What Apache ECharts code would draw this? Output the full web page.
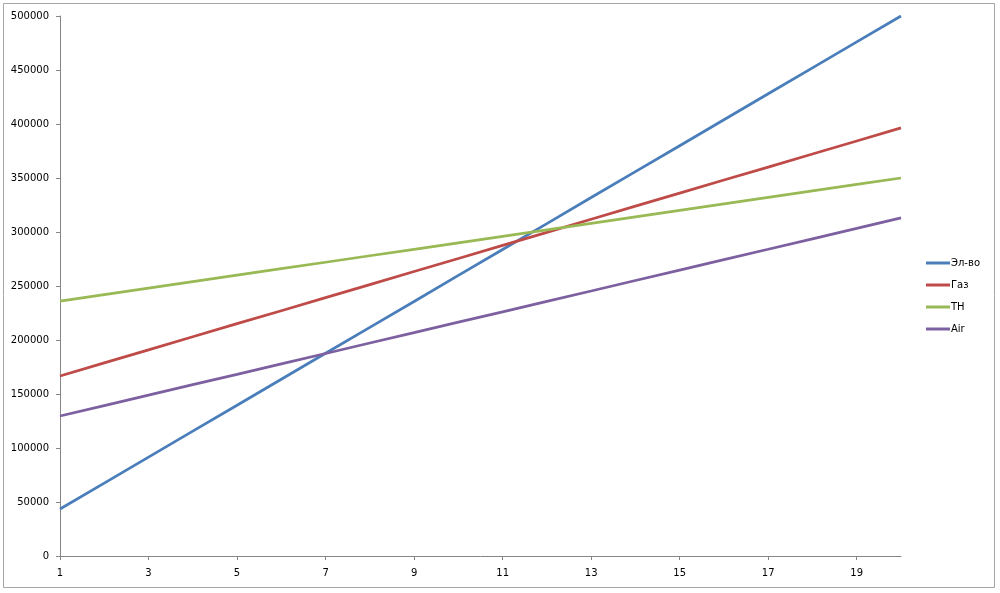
<!DOCTYPE html>
<html>
<head>
<meta charset="utf-8">
<script src="https://cdn.jsdelivr.net/npm/echarts@6/dist/echarts.min.js"></script>
<style>
html,body{margin:0;padding:0;background:#fff;}
#c{width:1000px;height:593px;}
</style>
</head>
<body>
<div id="c"></div>
<script>
const categories = ['1','2','3','4','5','6','7','8','9','10','11','12','13','14','15','16','17','18','19','20'];
const elvo = [43500,67500,91600,115600,139600,163700,187700,211700,235700,259800,283800,307800,331900,355900,379900,403900,428000,452000,476000,500000];
const gaz = [166700,178800,190900,203000,215100,227100,239200,251300,263400,275500,287600,299700,311800,323900,336000,348100,360100,372200,384300,396400];
const tn = [236000,242000,248000,254000,260000,266000,272000,278000,284000,290000,296000,302000,308000,314000,320000,326000,332000,338000,344000,350000];
const air = [129600,139300,148900,158600,168200,177900,187500,197200,206800,216500,226100,235800,245400,255100,264700,274400,284000,293700,303300,313000];
const seriesNames = ['Эл-во','Газ','ТН','Air'];
const colors = ['#4a7ebb','#be4b48','#98b954','#7d60a0'];

const chart = echarts.init(document.getElementById('c'), null, {renderer:'canvas'});
const font = 'DejaVu Sans';
const mk = (name, data, i) => ({
  name, type:'line', data, symbol:'none', smooth:false,
  lineStyle:{width:2.75, color:colors[i]}, itemStyle:{color:colors[i]}
});
chart.setOption({
  animation:false,
  backgroundColor:'#fff',
  textStyle:{fontFamily:font},
  grid:{left:60, right:99, top:16, bottom:37, containLabel:false},
  legend:{
    orient:'vertical', left:926, top:258, padding:0, itemWidth:24, itemHeight:10, itemGap:12,
    data: seriesNames.map((n,i)=>({name:n, itemStyle:{color:colors[i]}, icon:'path://M0,4 L24,4 L24,7 L0,7 Z'})),
    textStyle:{fontFamily:font, fontSize:10, color:'#000', padding:[0,0,0,-4]}
  },
  xAxis:{
    type:'category', data:categories, boundaryGap:false,
    axisLine:{lineStyle:{color:'#868686', width:1}},
    axisTick:{interval:1, length:4, lineStyle:{color:'#868686'}},
    axisLabel:{interval:1, margin:12, fontFamily:font, fontSize:10, color:'#000'},
    splitLine:{show:false}
  },
  yAxis:{
    type:'value', min:0, max:500000, interval:50000,
    axisLine:{show:true, lineStyle:{color:'#868686', width:1}},
    axisTick:{show:true, length:4, lineStyle:{color:'#868686'}},
    axisLabel:{margin:11, fontFamily:font, fontSize:10, color:'#000', formatter:(v)=>String(v)},
    splitLine:{show:false}
  },
  graphic:[{
    type:'rect', shape:{x:3.5, y:3.5, width:991, height:584},
    style:{fill:'none', stroke:'#a6a6a6', lineWidth:1}, silent:true, z:-1
  }],
  series:[mk(seriesNames[0], elvo, 0), mk(seriesNames[1], gaz, 1), mk(seriesNames[2], tn, 2), mk(seriesNames[3], air, 3)]
});
</script>
</body>
</html>
